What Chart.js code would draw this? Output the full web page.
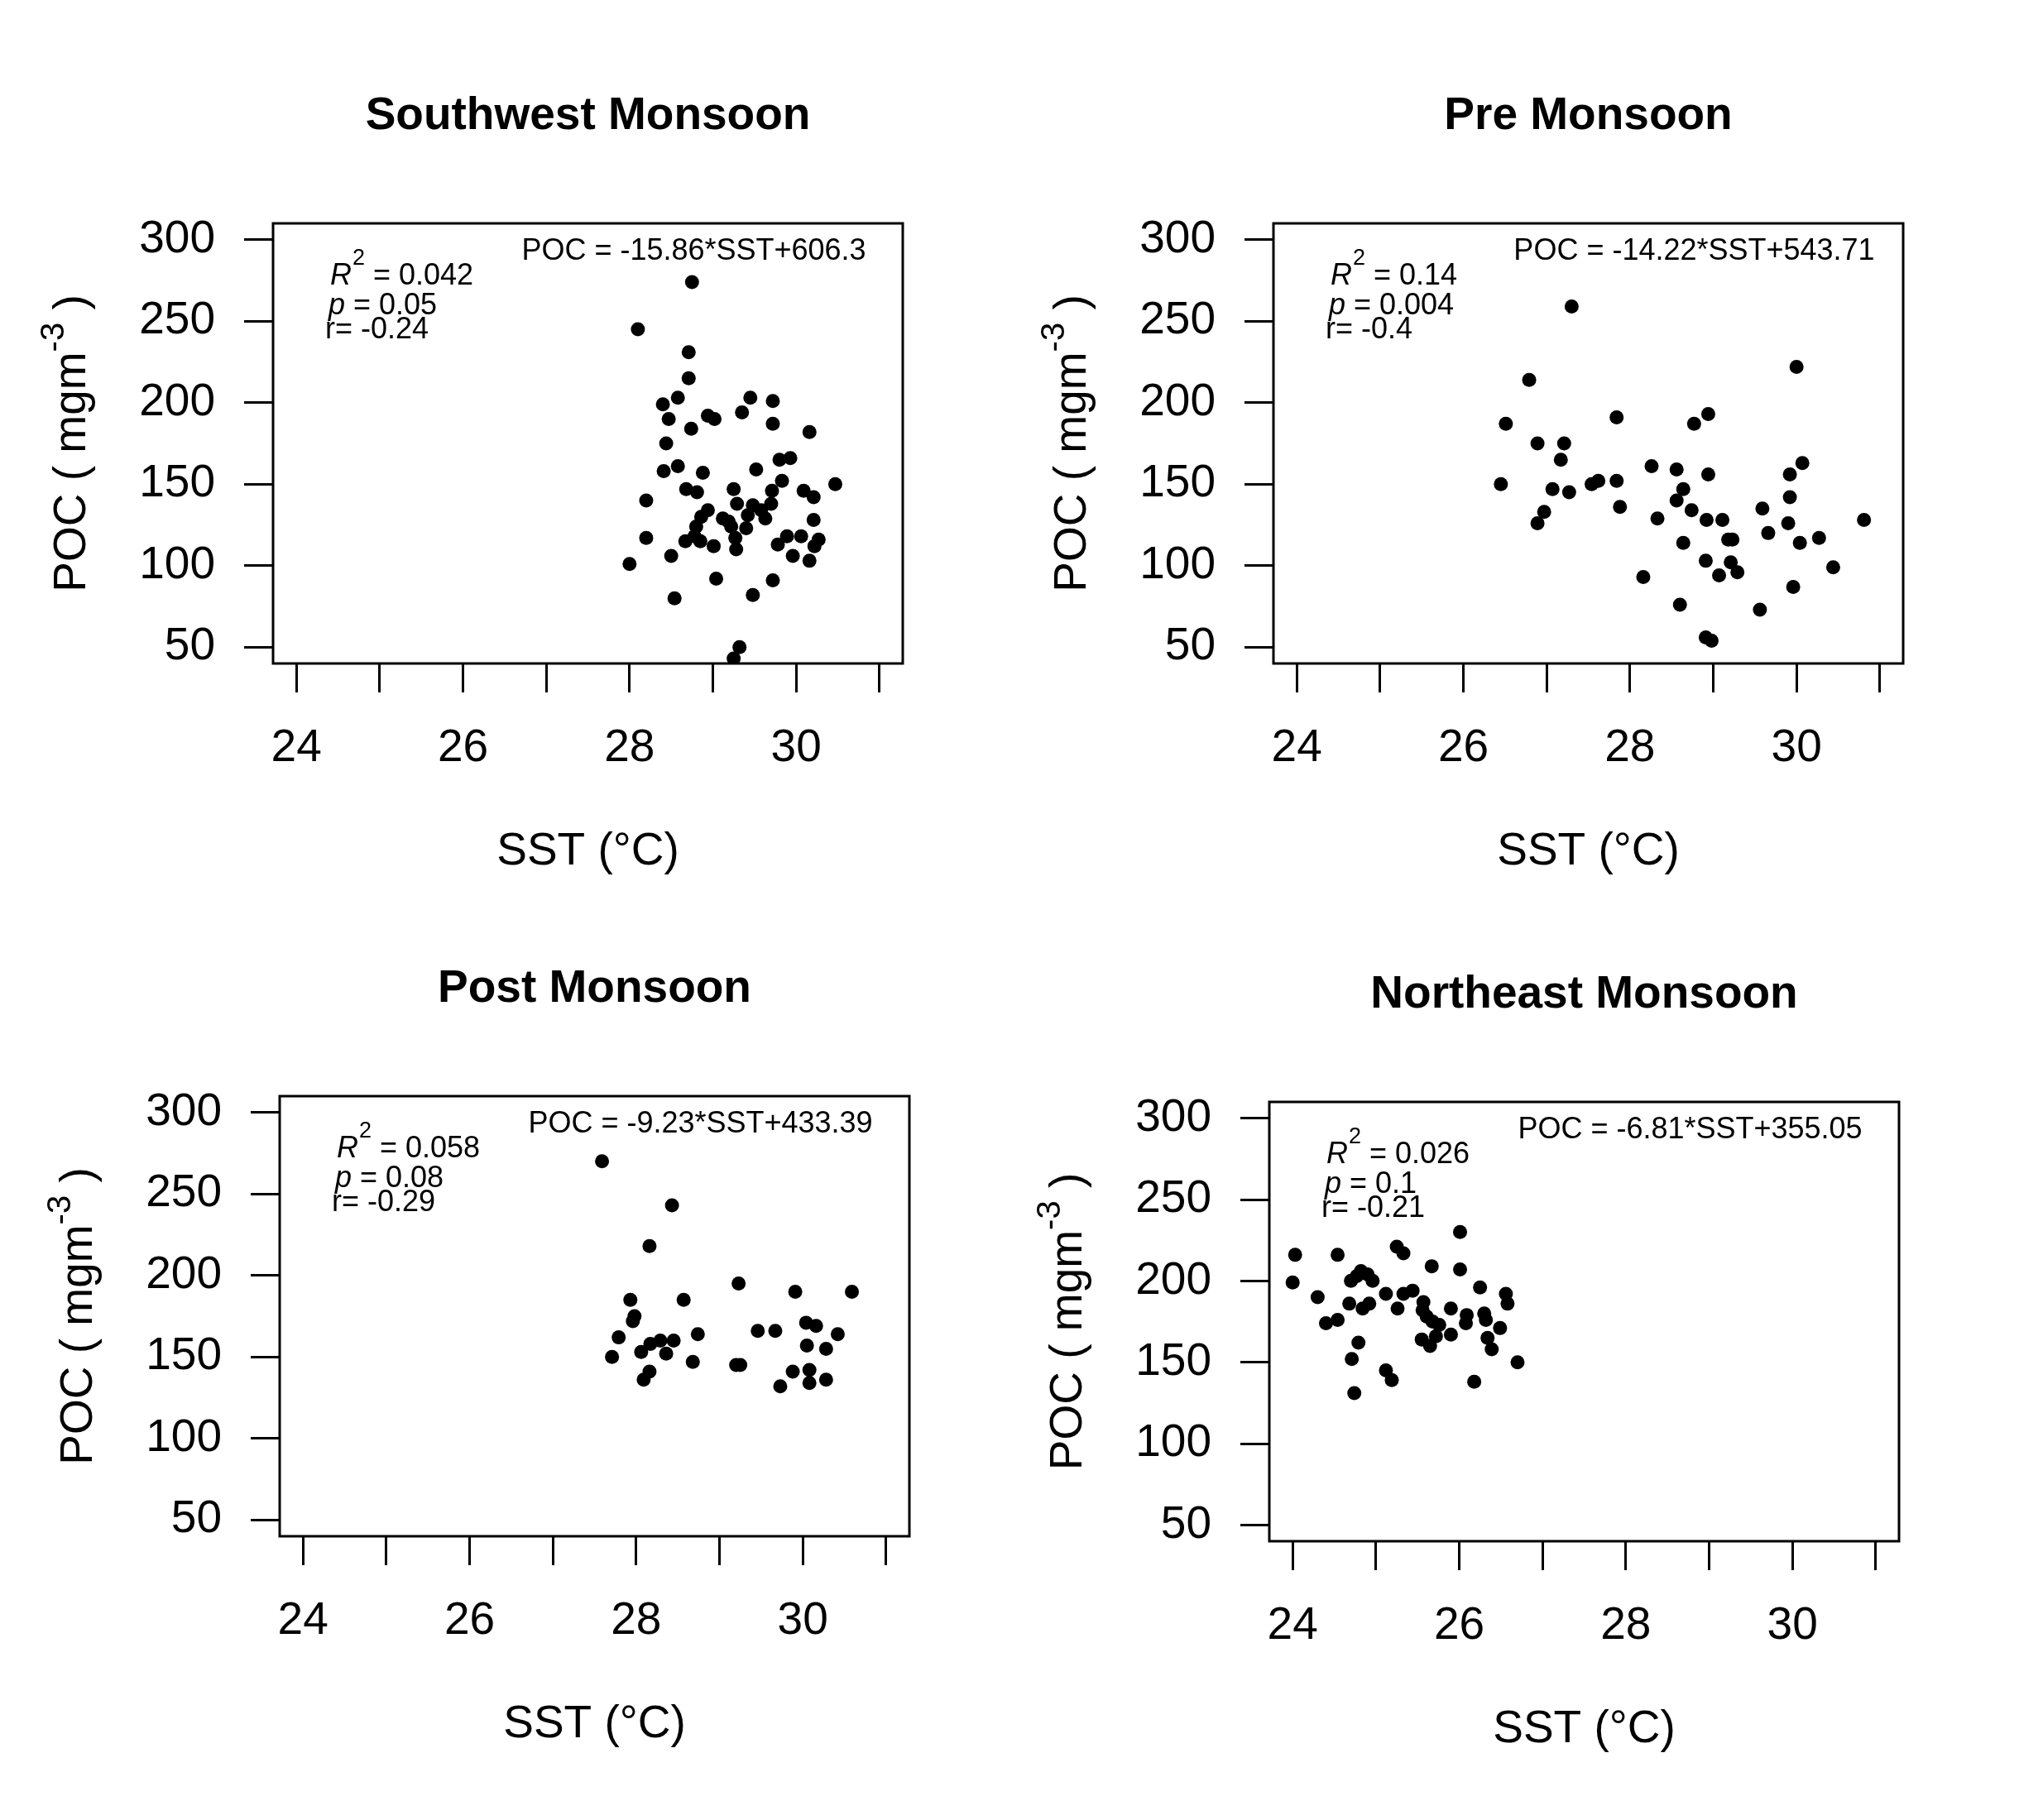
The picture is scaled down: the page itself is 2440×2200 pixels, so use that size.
<!DOCTYPE html>
<html>
<head>
<meta charset="utf-8">
<script src="https://cdn.jsdelivr.net/npm/chart.js@4.4.1/dist/chart.umd.min.js"></script>
<style>
  html, body { margin: 0; padding: 0; background: #fff; }
  #wrap { position: relative; width: 2440px; height: 2200px; background: #fff; }
  canvas { position: absolute; }
</style>
</head>
<body>
<div id="wrap">
  <canvas id="c0" width="1220" height="1100" style="left:0px;top:0px"></canvas>
  <canvas id="c1" width="1220" height="1100" style="left:1220px;top:0px"></canvas>
  <canvas id="c2" width="1220" height="1100" style="left:0px;top:1100px"></canvas>
  <canvas id="c3" width="1220" height="1100" style="left:1220px;top:1100px"></canvas>
</div>
<script>
// panel titles and regression notes
const titles = ['Southwest Monsoon', 'Pre Monsoon', 'Post Monsoon', 'Northeast Monsoon'];
const eqText = ['POC = -15.86*SST+606.3', 'POC = -14.22*SST+543.71', 'POC = -9.23*SST+433.39', 'POC = -6.81*SST+355.05'];
const r2Text = ['0.042', '0.14', '0.058', '0.026'];
const pText = ['0.05', '0.004', '0.08', '0.1'];
const rText = ['-0.24', '-0.4', '-0.29', '-0.21'];

// axis ticks
const xTicks = [24, 25, 26, 27, 28, 29, 30, 31];
const xLabels = [24, 26, 28, 30];
const yTicks = [50, 100, 150, 200, 250, 300];

// Southwest Monsoon
const swSST = [28.75, 28.10, 28.71, 28.71, 28.58, 28.40, 28.47, 28.94, 29.02, 28.74, 29.35, 29.45, 29.72, 29.72, 30.16,
  28.44, 28.41, 28.58, 28.88, 29.52, 29.80, 29.93, 30.47, 28.20, 28.68, 28.81, 29.25, 29.29, 29.83, 29.71, 30.09,
  30.21, 29.70, 29.48, 28.94, 29.12, 29.19, 28.80, 29.42, 29.63, 29.40, 30.21, 28.78, 28.67, 28.85, 29.01, 29.27,
  29.28, 28.20, 28.50, 28.00, 29.78, 29.89, 30.06, 30.27, 30.22, 29.96, 30.16, 29.04, 29.72, 28.54, 29.48, 29.32,
  29.25, 28.86, 29.22, 29.58];
const swPOC = [274, 245, 231, 215, 203, 199, 190, 192, 190, 184, 194, 203, 201, 187, 182,
  175, 158, 161, 157, 159, 165, 166, 150, 140, 147, 145, 147, 138, 152, 146, 146,
  142, 138, 137, 134, 129, 127, 124, 131, 129, 123, 128, 118, 115, 115, 112, 117,
  110, 117, 106, 101, 113, 118, 118, 116, 112, 106, 103, 92, 91, 80, 82, 50,
  43, 130, 124, 134];

// Pre Monsoon
const preSST = [27.30, 26.79, 30.00, 26.51, 27.84, 28.94, 28.77, 26.89, 27.21, 27.17, 30.07, 28.26, 28.56, 28.94, 29.92,
  26.45, 27.54, 27.62, 27.84, 27.07, 27.27, 28.64, 28.56, 27.88, 29.92, 26.97, 26.89, 28.74, 29.59, 28.33, 28.92,
  29.11, 29.90, 30.81, 29.66, 30.27, 29.18, 29.23, 28.64, 30.04, 28.91, 29.21, 29.29, 29.07, 28.16, 30.44, 29.96,
  28.60, 29.56, 28.91, 28.98];
const prePOC = [259, 214, 222, 187, 191, 193, 187, 175, 175, 165, 163, 161, 159, 156, 156,
  150, 150, 152, 152, 147, 145, 147, 140, 136, 142, 133, 126, 134, 135, 129, 128,
  128, 126, 128, 120, 117, 116, 116, 114, 114, 103, 102, 96, 94, 93, 99, 87,
  76, 73, 56, 54];

// Post Monsoon
const postSST = [27.59, 28.43, 28.16, 29.23, 29.91, 30.59, 27.93, 28.57, 27.98, 27.96, 30.04, 30.16, 29.46, 29.67, 28.74,
  30.42, 27.79, 28.17, 28.29, 28.45, 30.05, 30.28, 28.06, 28.36, 27.71, 28.68, 29.20, 29.25, 29.88, 30.08, 28.16,
  28.09, 29.73, 30.08, 30.28];
const postPOC = [270, 243, 218, 195, 190, 190, 185, 185, 175, 172, 171, 169, 166, 166, 164,
  164, 162, 158, 160, 160, 157, 155, 153, 152, 150, 147, 145, 145, 141, 142, 141,
  136, 132, 134, 136];

// Northeast Monsoon
const neSST = [26.01, 24.03, 24.54, 25.25, 25.33, 25.67, 26.01, 24.00, 24.82, 24.77, 24.90, 24.96, 24.70, 26.25, 26.56,
  26.58, 24.30, 25.12, 25.33, 25.44, 24.68, 24.84, 24.92, 25.26, 25.57, 25.56, 25.61, 25.90, 26.09, 26.08, 26.30,
  26.32, 24.40, 24.54, 25.68, 25.76, 26.49, 25.55, 25.65, 25.72, 25.90, 26.34, 26.39, 24.79, 24.71, 26.70, 25.12,
  25.19, 26.18, 24.74];
const nePOC = [230, 216, 216, 221, 217, 209, 207, 199, 206, 203, 204, 200, 200, 196, 192,
  186, 190, 192, 192, 194, 186, 183, 186, 183, 187, 182, 178, 183, 179, 174, 180,
  176, 174, 176, 175, 173, 171, 164, 160, 166, 167, 165, 158, 162, 152, 150, 145,
  139, 138, 131];

const sstSets = [swSST, preSST, postSST, neSST];
const pocSets = [swPOC, prePOC, postPOC, nePOC];

// plot box of each panel inside its 1220x1100 canvas
const boxes = [
  { L: 330, T: 270, R: 1091, B: 802 },
  { L: 319, T: 270, R: 1080, B: 802 },
  { L: 338, T: 225, R: 1099, B: 757 },
  { L: 314, T: 232, R: 1075, B: 763 }
];

const FONT = '"Liberation Sans", Arial, sans-serif';
Chart.defaults.font.family = FONT;
Chart.defaults.color = '#000';

// box, regression notes and y title (with superscripts)
const panelText = {
  id: 'panelText',
  afterDatasetsDraw(chart, args, opts) {
    const i = opts.i;
    const ctx = chart.ctx;
    const a = chart.chartArea;
    ctx.save();
    ctx.lineWidth = 3;
    ctx.strokeStyle = '#000';
    ctx.strokeRect(a.left, a.top, a.right - a.left, a.bottom - a.top);

    ctx.fillStyle = '#000';
    ctx.font = '36px ' + FONT;
    ctx.textAlign = 'center';
    ctx.textBaseline = 'middle';
    ctx.fillText(eqText[i], (a.left + a.right) / 2 + 128, a.top + 34);

    ctx.textAlign = 'left';
    ctx.textBaseline = 'alphabetic';
    let x = a.left + 69;
    ctx.font = 'italic 36px ' + FONT;
    ctx.fillText('R', x, a.top + 74);
    x += ctx.measureText('R').width + 1;
    ctx.font = '27px ' + FONT;
    ctx.fillText('2', x, a.top + 50);
    x += ctx.measureText('2').width;
    ctx.font = '36px ' + FONT;
    ctx.fillText(' = ' + r2Text[i], x, a.top + 74);

    x = a.left + 67;
    ctx.font = 'italic 36px ' + FONT;
    ctx.fillText('p', x, a.top + 110);
    x += ctx.measureText('p').width;
    ctx.font = '36px ' + FONT;
    ctx.fillText(' = ' + pText[i], x, a.top + 110);

    ctx.fillText('r= ' + rText[i], a.left + 63, a.top + 139);

    // y axis title
    ctx.translate(a.left - 242, (a.top + a.bottom) / 2);
    ctx.rotate(-Math.PI / 2);
    ctx.textBaseline = 'middle';
    const main = '55px ' + FONT, sup = '40px ' + FONT;
    ctx.font = main;
    const w1 = ctx.measureText('POC ( mgm').width;
    const w3 = ctx.measureText(' )').width;
    ctx.font = sup;
    const w2 = ctx.measureText('-3').width;
    let s = -(w1 + w2 + w3) / 2;
    ctx.font = main;
    ctx.fillText('POC ( mgm', s, 0);
    s += w1;
    ctx.font = sup;
    ctx.fillText('-3', s, -22);
    s += w2;
    ctx.font = main;
    ctx.fillText(' )', s, 0);
    ctx.restore();
  }
};

function makeChart(i) {
  const b = boxes[i];
  const pts = sstSets[i].map((x, k) => ({ x: x, y: pocSets[i][k] }));
  return new Chart(document.getElementById('c' + i), {
    type: 'scatter',
    data: {
      datasets: [{
        data: pts,
        pointRadius: 8.5,
        pointHoverRadius: 8.5,
        backgroundColor: '#000',
        borderWidth: 0
      }]
    },
    options: {
      responsive: false,
      animation: false,
      events: [],
      layout: { padding: { left: 0, top: 0, right: 1220 - b.R, bottom: 0 } },
      plugins: {
        legend: { display: false },
        tooltip: { enabled: false },
        title: {
          display: true,
          text: titles[i],
          fullSize: false,
          color: '#000',
          font: { size: 55, weight: 'bold' },
          padding: { top: b.T - 162, bottom: 96 }
        },
        panelText: { i: i }
      },
      scales: {
        x: {
          type: 'linear',
          min: 23.72,
          max: 31.28,
          afterFit: s => { s.height = 1100 - b.B; },
          afterBuildTicks: s => { s.ticks = xTicks.map(v => ({ value: v })); },
          border: { display: false },
          grid: { drawOnChartArea: false, drawTicks: true, tickLength: 35, tickWidth: 3, tickColor: '#000' },
          ticks: {
            autoSkip: false,
            maxRotation: 0,
            padding: 35,
            color: '#000',
            font: { size: 55 },
            callback: v => (xLabels.includes(v) ? String(v) : '')
          },
          title: {
            display: true,
            text: 'SST (°C)',
            color: '#000',
            font: { size: 55 },
            padding: { top: 0, bottom: 839 - b.B }
          }
        },
        y: {
          type: 'linear',
          min: 40,
          max: 310,
          afterFit: s => { s.width = b.L; },
          afterBuildTicks: s => { s.ticks = yTicks.map(v => ({ value: v })); },
          border: { display: false },
          grid: { drawOnChartArea: false, drawTicks: true, tickLength: 35, tickWidth: 3, tickColor: '#000' },
          ticks: {
            autoSkip: false,
            padding: 35,
            color: '#000',
            font: { size: 55 }
          }
        }
      }
    },
    plugins: [panelText]
  });
}

for (let i = 0; i < 4; i++) makeChart(i);
</script>
</body>
</html>
